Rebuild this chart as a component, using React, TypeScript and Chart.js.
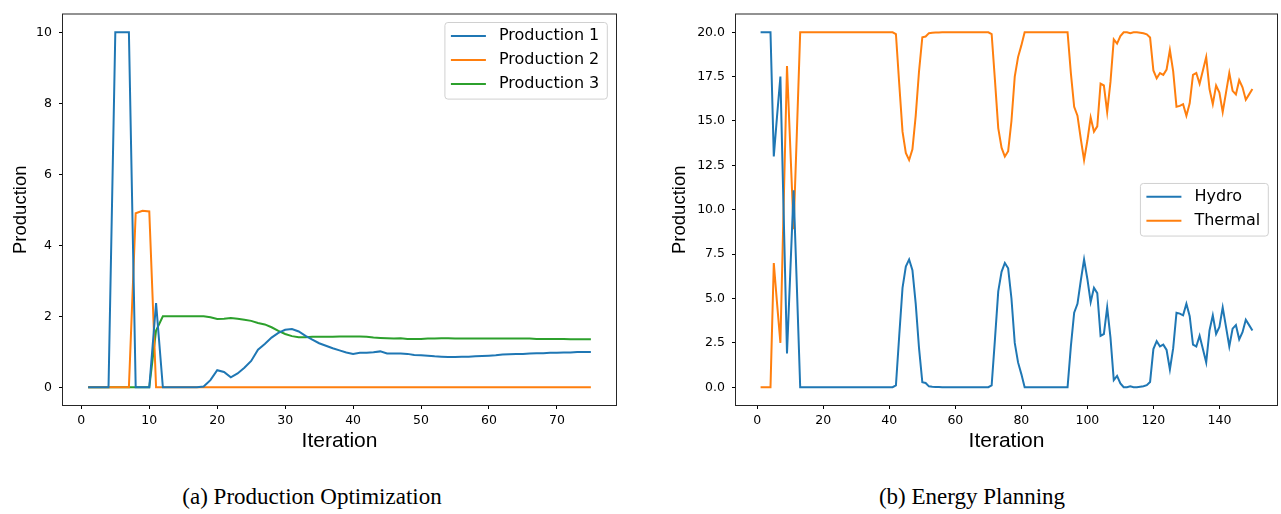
import React, { useEffect, useRef } from 'react';
import { Chart, registerables } from 'chart.js';

Chart.register(...registerables);

// ---------- Data: (a) Production Optimization ----------
const iterationsA = Array.from({ length: 75 }, (_, i) => i + 1);
const production1 = [
  0, 0, 0, 0, 10, 10, 10, 0, 0, 0,
  2.37, 0, 0, 0, 0, 0, 0, 0.02, 0.2, 0.48,
  0.43, 0.28, 0.39, 0.55, 0.74, 1.06, 1.22, 1.4, 1.53, 1.62,
  1.64, 1.57, 1.45, 1.34, 1.24, 1.17, 1.1, 1.04, 0.98, 0.94,
  0.97, 0.97, 0.985, 1.01, 0.95, 0.95, 0.95, 0.94, 0.91, 0.9,
  0.89, 0.87, 0.86, 0.85, 0.85, 0.86, 0.86, 0.87, 0.88, 0.89,
  0.9, 0.92, 0.93, 0.94, 0.94, 0.95, 0.96, 0.96, 0.97, 0.97,
  0.98, 0.98, 0.99, 0.99, 0.99,
];
const production2 = [
  0, 0, 0, 0, 0, 0, 0, 4.9, 4.97, 4.95,
  0, 0, 0, 0, 0, 0, 0, 0, 0, 0,
  0, 0, 0, 0, 0, 0, 0, 0, 0, 0,
  0, 0, 0, 0, 0, 0, 0, 0, 0, 0,
  0, 0, 0, 0, 0, 0, 0, 0, 0, 0,
  0, 0, 0, 0, 0, 0, 0, 0, 0, 0,
  0, 0, 0, 0, 0, 0, 0, 0, 0, 0,
  0, 0, 0, 0, 0,
];
const production3 = [
  0, 0, 0, 0, 0, 0, 0, 0, 0, 0,
  1.6, 2.0, 2.0, 2.0, 2.0, 2.0, 2.0, 2.0, 1.97, 1.92,
  1.93, 1.95, 1.93, 1.9, 1.87, 1.81, 1.77, 1.69, 1.59, 1.5,
  1.44, 1.41, 1.41, 1.42, 1.42, 1.42, 1.42, 1.43, 1.43, 1.43,
  1.43, 1.42, 1.4, 1.39, 1.38, 1.37, 1.38, 1.36, 1.36, 1.36,
  1.37, 1.37, 1.38, 1.38, 1.37, 1.37, 1.37, 1.37, 1.37, 1.37,
  1.37, 1.37, 1.37, 1.37, 1.37, 1.37, 1.36, 1.36, 1.36, 1.36,
  1.36, 1.35, 1.35, 1.35, 1.35,
];
const ticksAX = [0, 10, 20, 30, 40, 50, 60, 70];
const ticksAY = [0, 2, 4, 6, 8, 10];

// ---------- Data: (b) Energy Planning ----------
const iterationsB = Array.from({ length: 150 }, (_, i) => i + 1);
const hydro = [
  20, 20, 20, 20, 13.0, 15.3, 17.5, 9.7, 1.9, 6.5,
  11.1, 5.6, 0, 0, 0, 0, 0, 0, 0, 0,
  0, 0, 0, 0, 0, 0, 0, 0, 0, 0,
  0, 0, 0, 0, 0, 0, 0, 0, 0, 0,
  0, 0.1, 2.9, 5.6, 6.8, 7.2, 6.6, 4.7, 2.2, 0.28,
  0.24, 0.05, 0.03, 0.02, 0.01, 0, 0, 0, 0, 0,
  0, 0, 0, 0, 0, 0, 0, 0, 0, 0,
  0.1, 2.7, 5.4, 6.5, 7.0, 6.7, 5.0, 2.5, 1.4, 0.74,
  0, 0, 0, 0, 0, 0, 0, 0, 0, 0,
  0, 0, 0, 0, 2.3, 4.2, 4.7, 6.0, 7.2, 6.1,
  4.8, 5.6, 5.3, 2.9, 3.0, 4.5, 2.8, 0.4, 0.64, 0.22,
  0, 0, 0.05, 0, 0, 0.03, 0.06, 0.12, 0.3, 2.15,
  2.6, 2.3, 2.4, 2.1, 1.0, 2.2, 4.2, 4.15, 4.05, 4.7,
  4.0, 2.4, 2.3, 2.9, 2.15, 1.4, 3.2, 4.05, 3.0, 3.4,
  4.5, 3.4, 2.3, 3.3, 3.5, 2.7, 3.1, 3.8, 3.5, 3.2,
];
const thermal = [
  0, 0, 0, 0, 7.0, 4.7, 2.5, 10.3, 18.1, 13.5,
  8.9, 14.4, 20, 20, 20, 20, 20, 20, 20, 20,
  20, 20, 20, 20, 20, 20, 20, 20, 20, 20,
  20, 20, 20, 20, 20, 20, 20, 20, 20, 20,
  20, 19.9, 17.1, 14.4, 13.2, 12.8, 13.4, 15.3, 17.8, 19.72,
  19.76, 19.95, 19.97, 19.98, 19.99, 20, 20, 20, 20, 20,
  20, 20, 20, 20, 20, 20, 20, 20, 20, 20,
  19.9, 17.3, 14.6, 13.5, 13.0, 13.3, 15.0, 17.5, 18.6, 19.26,
  20, 20, 20, 20, 20, 20, 20, 20, 20, 20,
  20, 20, 20, 20, 17.7, 15.8, 15.3, 14.0, 12.8, 13.9,
  15.2, 14.4, 14.7, 17.1, 17.0, 15.5, 17.2, 19.6, 19.36, 19.78,
  20, 20, 19.95, 20, 20, 19.97, 19.94, 19.88, 19.7, 17.85,
  17.4, 17.7, 17.6, 17.9, 19.0, 17.8, 15.8, 15.85, 15.95, 15.3,
  16.0, 17.6, 17.7, 17.1, 17.85, 18.6, 16.8, 15.95, 17.0, 16.6,
  15.5, 16.6, 17.7, 16.7, 16.5, 17.3, 16.9, 16.2, 16.5, 16.8,
];
const ticksBX = [0, 20, 40, 60, 80, 100, 120, 140];
const ticksBY = [0, 2.5, 5, 7.5, 10, 12.5, 15, 17.5, 20];

const COLORS = ['#1f77b4', '#ff7f0e', '#2ca02c'];

// Plugin: matplotlib-like axes frame + legend
const mplPlugin = {
  id: 'mplDecor',
  afterDraw(chart: any, _args: any, opts: any) {
    const { ctx, chartArea: a } = chart;
    ctx.save();
    ctx.strokeStyle = '#262626';
    ctx.lineWidth = 1;
    ctx.strokeRect(a.left - 0.5, a.top - 0.5, a.right - a.left + 1, a.bottom - a.top + 1);

    const items = chart.data.datasets;
    const n = items.length;
    ctx.font = '16px "DejaVu Sans"';
    const textW = Math.max(...items.map((d: any) => ctx.measureText(d.label).width));
    const padL = 6, lineLen = 35, gap = 13, padR = 8, rowH = 24;
    const w = padL + lineLen + gap + textW + padR;
    const h = rowH * (n - 1) + 28.6;
    const right = a.right - 8.7;
    const left = right - w;
    const top = opts.loc === 'center right' ? (a.top + a.bottom) / 2 - h / 2 : a.top + 8;
    ctx.beginPath();
    ctx.roundRect(left, top, w, h, 3);
    ctx.fillStyle = 'rgba(255,255,255,0.8)';
    ctx.fill();
    ctx.strokeStyle = '#d0d0d0';
    ctx.lineWidth = 1;
    ctx.stroke();
    items.forEach((d: any, i: number) => {
      const y = top + 13.4 + i * rowH;
      ctx.beginPath();
      ctx.strokeStyle = d.borderColor;
      ctx.lineWidth = 2;
      ctx.moveTo(left + padL, y);
      ctx.lineTo(left + padL + lineLen, y);
      ctx.stroke();
      ctx.fillStyle = '#000';
      ctx.textBaseline = 'middle';
      ctx.textAlign = 'left';
      ctx.fillText(d.label, left + padL + lineLen + gap, y);
    });
    ctx.restore();
  },
};

function makeConfig(opts: {
  xs: number[];
  series: { label: string; data: number[]; color: string }[];
  xMin: number; xMax: number; yMin: number; yMax: number;
  xTicks: number[]; yTicks: number[];
  yWidth: number; yTitlePad: number; yFmt: (v: number) => string;
  rightPad: number; legendLoc: string;
}) {
  const tickFont = { family: '"DejaVu Sans"', size: 12.5 };
  return {
    type: 'line' as const,
    data: {
      datasets: opts.series.map((s) => ({
        label: s.label,
        data: opts.xs.map((x, i) => ({ x, y: s.data[i] })),
        borderColor: s.color,
        backgroundColor: s.color,
        borderWidth: 2,
        pointRadius: 0,
        tension: 0,
        fill: false,
      })),
    },
    options: {
      animation: false,
      responsive: false,
      devicePixelRatio: 1,
      layout: { padding: { top: 7, right: opts.rightPad, left: 0, bottom: 0 } },
      plugins: {
        legend: { display: false },
        tooltip: { enabled: false },
        mplDecor: { loc: opts.legendLoc },
      },
      scales: {
        x: {
          type: 'linear',
          min: opts.xMin,
          max: opts.xMax,
          afterBuildTicks: (s: any) => { s.ticks = opts.xTicks.map((v) => ({ value: v })); },
          afterFit: (s: any) => { s.height = 65; },
          ticks: { font: tickFont, color: '#000', padding: 4, maxRotation: 0, callback: (v: any) => String(v) },
          grid: { display: true, drawOnChartArea: false, drawTicks: true, tickLength: 4, color: '#000', lineWidth: 1 },
          border: { display: false },
          title: { display: true, text: 'Iteration', font: { family: '"Liberation Sans"', size: 21 }, color: '#000', padding: { top: 0, bottom: 16.4 } },
        },
        y: {
          type: 'linear',
          min: opts.yMin,
          max: opts.yMax,
          afterBuildTicks: (s: any) => { s.ticks = opts.yTicks.map((v) => ({ value: v })); },
          afterFit: (s: any) => { s.width = opts.yWidth; },
          ticks: { font: tickFont, color: '#000', padding: 7, callback: (v: any) => opts.yFmt(Number(v)) },
          grid: { display: true, drawOnChartArea: false, drawTicks: true, tickLength: 4, color: '#000', lineWidth: 1 },
          border: { display: false },
          title: { display: true, text: 'Production', font: { family: '"Liberation Sans"', size: 18.5 }, color: '#000', padding: { top: opts.yTitlePad, bottom: 0 } },
        },
      },
    },
    plugins: [mplPlugin],
  };
}

function ChartCanvas({ config, width, height, left }: { config: any; width: number; height: number; left: number }) {
  const ref = useRef<HTMLCanvasElement | null>(null);
  useEffect(() => {
    if (!ref.current) return;
    const chart = new Chart(ref.current, config);
    return () => chart.destroy();
  }, [config]);
  return (
    <canvas
      ref={ref}
      width={width}
      height={height}
      style={{ position: 'absolute', left, top: 0, width, height }}
    />
  );
}

const configA = makeConfig({
  xs: iterationsA,
  series: [
    { label: 'Production 1', data: production1, color: COLORS[0] },
    { label: 'Production 2', data: production2, color: COLORS[1] },
    { label: 'Production 3', data: production3, color: COLORS[2] },
  ],
  xMin: -2.7, xMax: 78.7, yMin: -0.5, yMax: 10.5,
  xTicks: ticksAX, yTicks: ticksAY,
  yWidth: 63, yTitlePad: 10, yFmt: (v) => String(v),
  rightPad: 24, legendLoc: 'upper right',
});

const configB = makeConfig({
  xs: iterationsB,
  series: [
    { label: 'Hydro', data: hydro, color: COLORS[0] },
    { label: 'Thermal', data: thermal, color: COLORS[1] },
  ],
  xMin: -6.45, xMax: 157.45, yMin: -1, yMax: 21,
  xTicks: ticksBX, yTicks: ticksBY,
  yWidth: 96, yTitlePad: 29, yFmt: (v) => v.toFixed(1),
  rightPad: 4, legendLoc: 'center right',
});

const captionStyle: React.CSSProperties = {
  position: 'absolute',
  top: 485,
  width: 600,
  textAlign: 'center',
  fontFamily: '"Liberation Serif", serif',
  fontSize: 23,
  lineHeight: '23px',
  color: '#000',
  whiteSpace: 'nowrap',
};

export default function App() {
  return (
    <div style={{ position: 'absolute', left: 0, top: 0, width: 1281, height: 514, background: '#fff', overflow: 'hidden' }}>
      <ChartCanvas config={configA} width={640} height={470} left={0} />
      <ChartCanvas config={configB} width={641} height={470} left={640} />
      <div style={{ ...captionStyle, left: 312 - 300 }}>(a) Production Optimization</div>
      <div style={{ ...captionStyle, left: 972 - 300 }}>(b) Energy Planning</div>
    </div>
  );
}
